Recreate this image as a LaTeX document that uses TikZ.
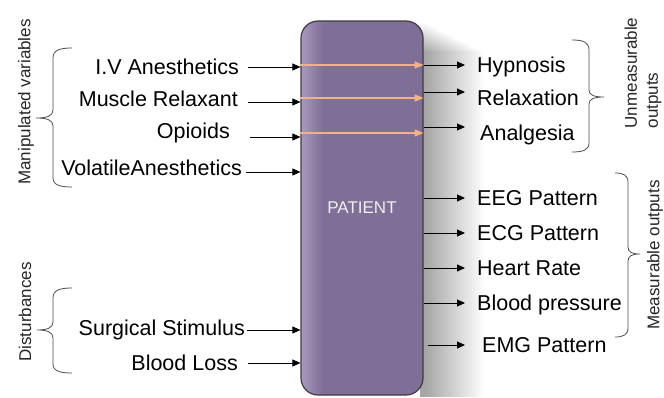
\documentclass[tikz,border=0pt]{standalone}
\usepackage{fontspec}
\setmainfont{Liberation Sans}
\usetikzlibrary{arrows.meta}
\definecolor{pdark}{HTML}{7F6F96}
\definecolor{plight}{HTML}{A999BE}
\definecolor{porange}{HTML}{F4B183}
\definecolor{bordergray}{HTML}{3C3C3C}
\pgfdeclarehorizontalshading{patshade}{100bp}{color(0bp)=(plight); color(25bp)=(plight); color(34bp)=(pdark); color(100bp)=(pdark)}
\begin{document}
\begin{tikzpicture}[x=1pt,y=-1pt,
 lbl/.style={font=\fontsize{21.5}{24}\selectfont, inner sep=0pt, text height=15pt, text depth=0pt},
 side/.style={font=\fontsize{17}{21}\selectfont, inner sep=0pt, rotate=90, text=black!85},
 arr/.style={line width=0.9pt, -{Triangle[length=8pt,width=7pt]}},
 oarr/.style={line width=1.4pt, porange, -{Triangle[length=9pt,width=7pt]}},
 brace/.style={line width=0.8pt, black!70},
 patbox/.style={shade, shading=patshade, draw=bordergray, line width=1.2pt, rounded corners=17pt,
   minimum width=122pt, minimum height=374pt, inner sep=0pt,
   font=\fontsize{17}{20}\selectfont, text=white!88!pdark}]
\fill[white] (0,0) rectangle (664,397);
\useasboundingbox (0,0) rectangle (664,397);
% soft shadow
\foreach \i in {1,...,30} {
  \fill[black, opacity=0.011] (420,{22+\i}) rectangle ({424+2*\i},397);
}
% patient box
\node[patbox] (box) at (362,208) {PATIENT};
% inputs
\node[lbl, anchor=east] (iv) at (239,67) {I.V Anesthetics};
\node[lbl, anchor=east] (mr) at (238,99) {Muscle Relaxant};
\node[lbl, anchor=east] (op) at (230,131) {Opioids};
\node[lbl, anchor=east] (va) at (242,168) {VolatileAnesthetics};
\node[lbl, anchor=east] (ss) at (245,328) {Surgical Stimulus};
\node[lbl, anchor=east] (bl) at (238,363) {Blood Loss};
\draw[arr] ([xshift=9pt]iv.east) -- (iv.east -| box.west);
\draw[arr] ([xshift=10pt,yshift=-3pt]mr.east) -- ([yshift=-3pt]mr.east -| box.west);
\draw[arr] ([xshift=20pt,yshift=-6pt]op.east) -- ([yshift=-6pt]op.east -| box.west);
\draw[arr] ([xshift=4pt,yshift=-4pt]va.east) -- ([yshift=-4pt]va.east -| box.west);
\draw[arr] ([xshift=2pt,yshift=-2pt]ss.east) -- ([yshift=-2pt]ss.east -| box.west);
\draw[arr] ([xshift=10pt]bl.east) -- (bl.east -| box.west);
% outputs
\node[lbl, anchor=west] (hyp) at (477,65) {Hypnosis};
\node[lbl, anchor=west] (rel) at (477,98) {Relaxation};
\node[lbl, anchor=west] (ana) at (480,133) {Analgesia};
\node[lbl, anchor=west] (eeg) at (477,198) {EEG Pattern};
\node[lbl, anchor=west] (ecg) at (477,233) {ECG Pattern};
\node[lbl, anchor=west] (hr)  at (477,268) {Heart Rate};
\node[lbl, anchor=west] (bp)  at (477,303) {Blood pressure};
\node[lbl, anchor=west] (emg) at (482,345) {EMG Pattern};
% orange through-arrows
\draw[oarr] (box.west |- hyp.west) -- (box.east |- hyp.west);
\draw[oarr] (box.west |- rel.west) -- (box.east |- rel.west);
\draw[oarr] (box.west |- ana.west) -- (box.east |- ana.west);
% output arrows
\draw[arr] (box.east |- hyp.west) -- ([xshift=-12pt]hyp.west);
\draw[arr] ([yshift=6pt]box.east |- rel.west) -- ([xshift=-12pt,yshift=6pt]rel.west);
\draw[arr] ([yshift=6pt]box.east |- ana.west) -- ([xshift=-15pt,yshift=6pt]ana.west);
\draw[arr] (box.east |- eeg.west) -- ([xshift=-12pt]eeg.west);
\draw[arr] (box.east |- ecg.west) -- ([xshift=-12pt]ecg.west);
\draw[arr] (box.east |- hr.west) -- ([xshift=-12pt]hr.west);
\draw[arr] (box.east |- bp.west) -- ([xshift=-12pt]bp.west);
\draw[arr] ([xshift=4pt]box.east |- emg.west) -- ([xshift=-17pt]emg.west);
% braces
\draw[brace] (72,48) .. controls (60,48) and (53,50) .. (53,58) -- (53,110) .. controls (53,116) and (47,118) .. (36,118) .. controls (47,118) and (53,120) .. (53,126) -- (53,178) .. controls (53,185) and (60,187) .. (72,187);
\draw[brace] (72,288) .. controls (60,288) and (53,290) .. (53,298) -- (53,322) .. controls (53,328) and (47,330) .. (37,330) .. controls (47,330) and (53,332) .. (53,338) -- (53,364) .. controls (53,371) and (60,373) .. (72,373);
\draw[brace] (572,40) .. controls (583,40) and (589,42) .. (589,50) -- (589,90) .. controls (589,95) and (594,97) .. (604,97) .. controls (594,97) and (589,99) .. (589,104) -- (589,143) .. controls (589,150) and (583,152) .. (572,152);
\draw[brace] (615,173) .. controls (623,173) and (628,175) .. (628,182) -- (628,247) .. controls (628,252) and (632,254) .. (640,254) .. controls (632,254) and (628,256) .. (628,261) -- (628,328) .. controls (628,335) and (623,337) .. (615,337);
% side labels
\node[side] (mv) at (26,102) {Manipulated variables};
\node[side] (dist) at (25,312) {Disturbances};
\node[side, align=left] (unm) at (643,73) {Unmeasurable\\outputs};
\node[side] (meas) at (655,255) {Measurable outputs};
\end{tikzpicture}
\end{document}
